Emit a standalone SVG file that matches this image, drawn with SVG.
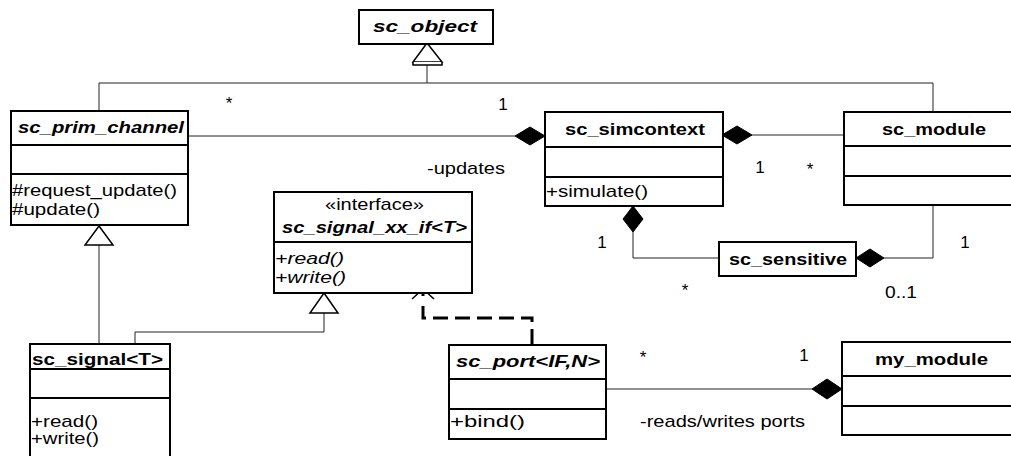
<svg xmlns="http://www.w3.org/2000/svg" width="1011" height="456" viewBox="0 0 1011 456">
<style>
  .box{fill:#fff;stroke:#000;stroke-width:2}
  .div{stroke:#000;stroke-width:2}
  .ln{fill:none;stroke:#222;stroke-width:1}
  .t{font-family:"Liberation Sans",Arial,sans-serif;font-size:17px;fill:#000}
  .b{font-weight:bold}
  .i{font-style:italic}
  .dia{fill:#000;stroke:#000;stroke-width:1}
  .tri{fill:#fff;stroke:#000;stroke-width:1.5}
  .dash{fill:none;stroke:#000;stroke-width:3;stroke-dasharray:15 7}
</style>
<rect width="1011" height="456" fill="#fff"/>
<g id="connectors">
  <path class="ln" d="M427,65 L427,83 M99,111 L99,83 L933,83 L933,112"/>
  <polygon class="tri" points="427,43 442,62 413,62"/>
  <path class="tri" d="M413,62 L413,65 L442,65 L442,62"/>
  <path class="ln" d="M188,136 L515,136"/>
  <polygon class="dia" points="515,136 530,127 545,136 530,145"/>
  <path class="ln" d="M752,135 L844,135"/>
  <polygon class="dia" points="722,135 737,126 752,135 737,144"/>
  <path class="ln" d="M633,232 L633,258 L719,258"/>
  <polygon class="dia" points="633,206 643,219 633,232 623,219"/>
  <path class="ln" d="M884,258 L933,258 L933,205"/>
  <polygon class="dia" points="856,258 870,249 884,258 870,267"/>
  <path class="ln" d="M99,245 L99,344"/>
  <polygon class="tri" points="99,226 113,245 85,245"/>
  <path class="ln" d="M324,313 L324,332 L135,332 L135,344"/>
  <polygon class="tri" points="324,293 338,313 310,313"/>
  <path class="dash" d="M532,344 L532,318 L423,318 L423,300"/>
  <path fill="none" stroke="#000" stroke-width="1.5" d="M412,299 L423,289 L434,299"/>
  <path stroke="#000" stroke-width="3" d="M423,290 L423,296"/>
  <path class="ln" d="M606,389 L812,389"/>
  <polygon class="dia" points="812,389 827,379 842,389 827,399"/>
</g>
<g id="labels">
  <text class="t" x="229" y="109" text-anchor="middle">*</text>
  <text class="t" x="503" y="110" text-anchor="middle">1</text>
  <text class="t" x="427" y="174" textLength="78" lengthAdjust="spacingAndGlyphs">-updates</text>
  <text class="t" x="760" y="173" text-anchor="middle">1</text>
  <text class="t" x="810" y="175" text-anchor="middle">*</text>
  <text class="t" x="602" y="248" text-anchor="middle">1</text>
  <text class="t" x="965" y="248" text-anchor="middle">1</text>
  <text class="t" x="685" y="296" text-anchor="middle">*</text>
  <text class="t" x="885" y="298" textLength="32" lengthAdjust="spacingAndGlyphs">0..1</text>
  <text class="t" x="643" y="363" text-anchor="middle">*</text>
  <text class="t" x="804" y="361" text-anchor="middle">1</text>
  <text class="t" x="640" y="427" textLength="165" lengthAdjust="spacingAndGlyphs">-reads/writes ports</text>
</g>
<g id="sc_object">
  <rect class="box" x="359" y="10" width="134" height="34"/>
  <text class="t b i" x="373" y="32" textLength="104" lengthAdjust="spacingAndGlyphs">sc_object</text>
</g>
<g id="sc_prim_channel">
  <rect class="box" x="11" y="111" width="177" height="114"/>
  <line class="div" x1="11" y1="145" x2="188" y2="145"/>
  <line class="div" x1="11" y1="174" x2="188" y2="174"/>
  <text class="t b i" x="18" y="133" textLength="166" lengthAdjust="spacingAndGlyphs">sc_prim_channel</text>
  <text class="t" x="12" y="196" textLength="165" lengthAdjust="spacingAndGlyphs">#request_update()</text>
  <text class="t" x="12" y="215" textLength="88" lengthAdjust="spacingAndGlyphs">#update()</text>
</g>
<g id="sc_simcontext">
  <rect class="box" x="545" y="112" width="178" height="94"/>
  <line class="div" x1="545" y1="147" x2="723" y2="147"/>
  <line class="div" x1="545" y1="177" x2="723" y2="177"/>
  <text class="t b" x="565" y="135" textLength="140" lengthAdjust="spacingAndGlyphs">sc_simcontext</text>
  <text class="t" x="546" y="197" textLength="102" lengthAdjust="spacingAndGlyphs">+simulate()</text>
</g>
<g id="sc_module">
  <rect class="box" x="844" y="112" width="180" height="93"/>
  <line class="div" x1="844" y1="146" x2="1024" y2="146"/>
  <line class="div" x1="844" y1="176" x2="1024" y2="176"/>
  <text class="t b" x="882" y="135" textLength="104" lengthAdjust="spacingAndGlyphs">sc_module</text>
</g>
<g id="sc_signal_xx_if">
  <rect class="box" x="274" y="192" width="198" height="101"/>
  <line class="div" x1="274" y1="242" x2="472" y2="242"/>
  <text class="t" x="325" y="210" textLength="99" lengthAdjust="spacingAndGlyphs">«interface»</text>
  <text class="t b i" x="282" y="233" textLength="185" lengthAdjust="spacingAndGlyphs">sc_signal_xx_if&lt;T&gt;</text>
  <text class="t i" x="275" y="264" textLength="69" lengthAdjust="spacingAndGlyphs">+read()</text>
  <text class="t i" x="275" y="283" textLength="71" lengthAdjust="spacingAndGlyphs">+write()</text>
</g>
<g id="sc_sensitive">
  <rect class="box" x="719" y="242" width="137" height="34"/>
  <text class="t b" x="729" y="265" textLength="118" lengthAdjust="spacingAndGlyphs">sc_sensitive</text>
</g>
<g id="sc_signal">
  <rect class="box" x="30" y="344" width="140" height="130"/>
  <line class="div" x1="30" y1="369" x2="170" y2="369"/>
  <line class="div" x1="30" y1="398" x2="170" y2="398"/>
  <text class="t b" x="32" y="365" textLength="131" lengthAdjust="spacingAndGlyphs">sc_signal&lt;T&gt;</text>
  <text class="t" x="31" y="427" textLength="67" lengthAdjust="spacingAndGlyphs">+read()</text>
  <text class="t" x="31" y="444" textLength="68" lengthAdjust="spacingAndGlyphs">+write()</text>
</g>
<g id="sc_port">
  <rect class="box" x="449" y="345" width="157" height="94"/>
  <line class="div" x1="449" y1="379" x2="606" y2="379"/>
  <line class="div" x1="449" y1="409" x2="606" y2="409"/>
  <text class="t b i" x="456" y="367" textLength="144" lengthAdjust="spacingAndGlyphs">sc_port&lt;IF,N&gt;</text>
  <text class="t" x="450" y="427" textLength="75" lengthAdjust="spacingAndGlyphs">+bind()</text>
</g>
<g id="my_module">
  <rect class="box" x="842" y="342" width="182" height="93"/>
  <line class="div" x1="842" y1="376" x2="1024" y2="376"/>
  <line class="div" x1="842" y1="406" x2="1024" y2="406"/>
  <text class="t b" x="875" y="365" textLength="113" lengthAdjust="spacingAndGlyphs">my_module</text>
</g>
</svg>
